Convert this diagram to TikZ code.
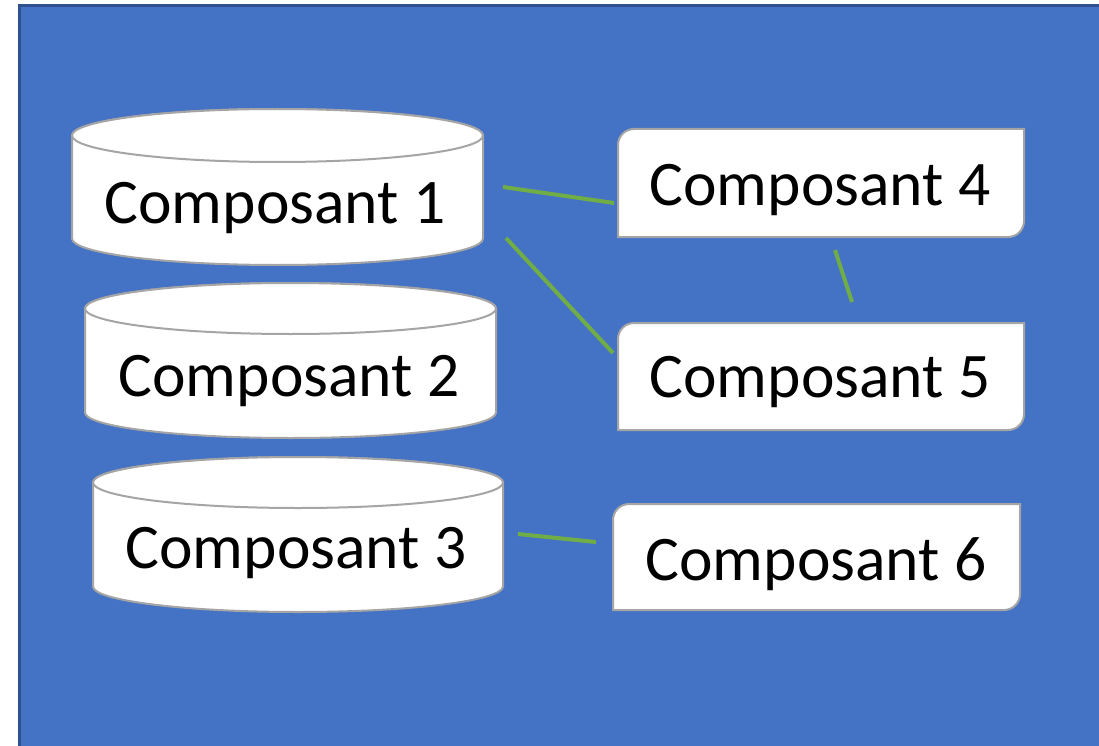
\documentclass[tikz,border=0pt]{standalone}
\usepackage{fontspec}
\setmainfont{Carlito}
\definecolor{bgblue}{HTML}{4472C4}
\definecolor{bgedge}{HTML}{2F528F}
\definecolor{shapeedge}{HTML}{A5A5A5}
\definecolor{linkgreen}{HTML}{70AD47}
\tikzset{
  shapestyle/.style={fill=white, draw=shapeedge, line width=2pt},
  label/.style={inner sep=0pt, anchor=base, font=\fontsize{63.5}{70}\selectfont, text=black},
  link/.style={draw=linkgreen, line width=4pt},
}
\newcommand{\drumshape}[5]{% cx, rx, topcy, botcy, ry
  \path[shapestyle] ({#1-#2},#3) -- ({#1-#2},#4)
    arc[start angle=180, end angle=0, x radius=#2, y radius=#5]
    -- ({#1+#2},#3)
    arc[start angle=0, end angle=-180, x radius=#2, y radius=#5] -- cycle;
  \path[shapestyle] (#1,#3) ellipse[x radius=#2, y radius=#5];
}
\newcommand{\snipshape}[4]{% x1,y1,x2,y2
  \path[shapestyle] (#1,#4) -- (#1,{#2+16})
    .. controls (#1,{#2+7.16}) and ({#1+7.16},#2) .. ({#1+16},#2)
    -- (#3,#2) -- (#3,{#4-16})
    .. controls (#3,{#4-7.16}) and ({#3-7.16},#4) .. ({#3-16},#4) -- cycle;
}
\begin{document}
\begin{tikzpicture}[x=1pt,y=-1pt]
\useasboundingbox (0,0) rectangle (1099,746);
\fill[white] (0,0) rectangle (1099,746);
\path[fill=bgblue, draw=bgedge, line width=3pt] (19.5,5.5) rectangle (1110,760);

% cylinders
\drumshape{277.5}{205.5}{135.5}{238.5}{26.5}
\drumshape{290.5}{205.5}{308.5}{412.5}{25.5}
\drumshape{298}{205}{482.5}{586.5}{25.5}
% boxes
\snipshape{618}{129}{1024}{237}
\snipshape{618}{323}{1024}{430}
\snipshape{613}{504}{1020}{610}

\node[label] (c1) at (275,223) {Composant 1};
\node[label] (c2) at (289,396) {Composant 2};
\node[label] (c3) at (296,568) {Composant 3};
\node[label] (c4) at (820,205) {Composant 4};
\node[label] (c5) at (820,397) {Composant 5};
\node[label] (c6) at (816,580) {Composant 6};

\coordinate (l1a) at (503,187);
\coordinate (l1b) at (614,203);
\coordinate (l2a) at (506,238);
\coordinate (l2b) at (613,353);
\coordinate (l3a) at (835,250);
\coordinate (l3b) at (852,302);
\coordinate (l4a) at (518,534);
\coordinate (l4b) at (596,542);
\draw[link] (l1a) -- (l1b);
\draw[link] (l2a) -- (l2b);
\draw[link] (l3a) -- (l3b);
\draw[link] (l4a) -- (l4b);
\end{tikzpicture}
\end{document}
